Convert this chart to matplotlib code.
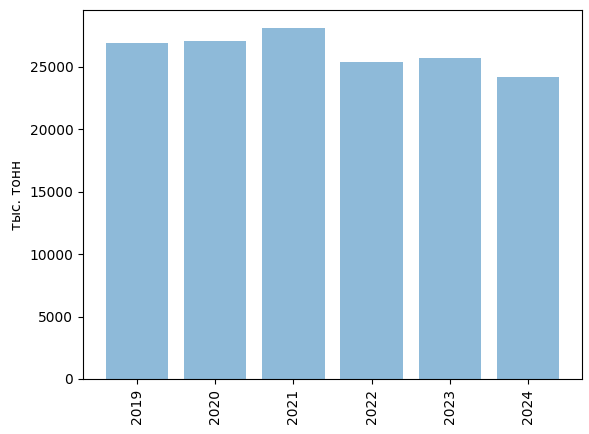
import matplotlib
matplotlib.use("Agg")
import matplotlib.pyplot as plt

years = ["2019", "2020", "2021", "2022", "2023", "2024"]
values = [26900, 27090, 28130, 25400, 25720, 24200]

fig = plt.figure(figsize=(5.89, 4.34), dpi=100)
ax = fig.add_axes([83/589, 1-379/434, (582-83)/589, (379-10)/434])
ax.bar(years, values, alpha=0.5)
ax.set_ylabel("тыс. тонн")
plt.setp(ax.get_xticklabels(), rotation=90)
fig.savefig("out.png", dpi=100)
